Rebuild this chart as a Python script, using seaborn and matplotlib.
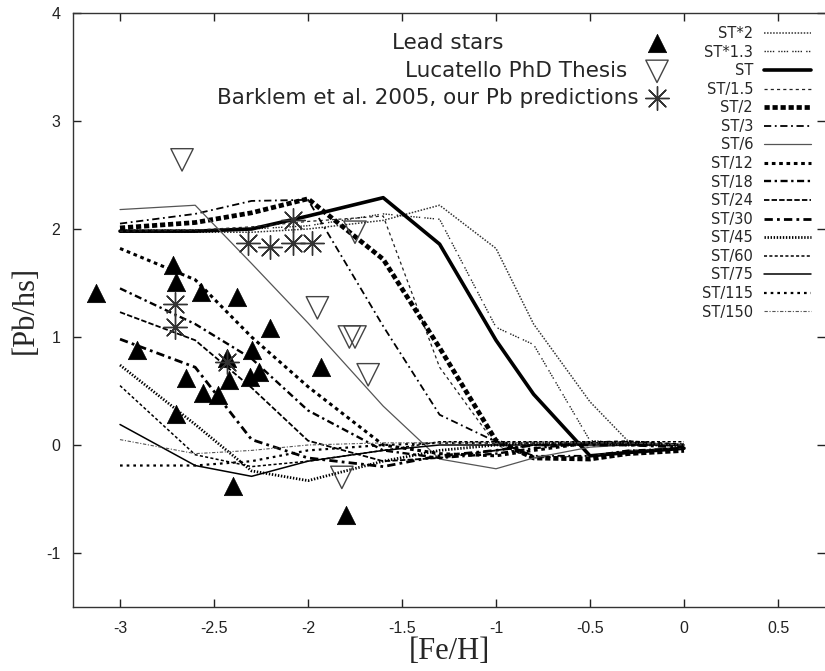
import matplotlib
matplotlib.use("Agg")
import matplotlib.pyplot as plt
import seaborn as sns
import pandas as pd

# ---------------- data ----------------
feh = [-3.0, -2.6, -2.3, -2.0, -1.6, -1.3, -1.0, -0.8, -0.5, -0.3, 0.0]

st_x2   = [1.97, 1.97, 1.97, 2.00, 2.08, 2.22, 1.82, 1.12, 0.40, 0.04, -0.02]
st_x13  = [1.99, 1.99, 2.00, 2.03, 2.14, 2.09, 1.09, 0.93, 0.04, 0.02, -0.02]
st      = [1.98, 1.98, 2.00, 2.12, 2.29, 1.86, 0.97, 0.47, -0.10, -0.07, -0.03]
st_d15  = [1.98, 1.99, 2.02, 2.07, 2.12, 0.72, 0.00, -0.12, -0.10, -0.05, -0.03]
st_d2   = [2.01, 2.06, 2.15, 2.28, 1.72, 0.90, 0.04, -0.12, -0.13, -0.08, -0.05]
st_d3   = [2.05, 2.14, 2.26, 2.27, 1.10, 0.28, 0.03, -0.10, -0.10, -0.05, -0.03]
st_d6   = [2.18, 2.22, 1.68, 1.13, 0.36, -0.13, -0.22, -0.12, -0.02, 0.00, 0.00]
st_d12  = [1.82, 1.53, 1.00, 0.54, 0.00, -0.08, -0.10, -0.05, 0.02, 0.03, 0.00]
st_d18  = [1.45, 1.12, 0.80, 0.32, -0.05, -0.12, -0.08, -0.03, 0.02, 0.02, 0.00]
st_d24  = [1.23, 0.97, 0.53, 0.04, -0.15, -0.12, -0.05, 0.00, 0.02, 0.02, 0.00]
st_d30  = [0.98, 0.72, 0.05, -0.12, -0.20, -0.10, -0.05, 0.00, 0.00, 0.00, -0.02]
st_d45  = [0.74, 0.19, -0.24, -0.33, -0.15, -0.05, 0.00, 0.02, 0.02, 0.00, 0.00]
st_d60  = [0.55, -0.09, -0.20, -0.15, -0.05, 0.03, 0.03, 0.03, 0.03, 0.03, 0.03]
st_d75  = [0.19, -0.19, -0.29, -0.15, -0.05, 0.00, 0.00, 0.00, 0.00, 0.00, 0.00]
st_d115 = [-0.19, -0.19, -0.15, -0.05, 0.00, 0.02, 0.02, 0.02, 0.02, 0.02, 0.00]
st_d150 = [0.05, -0.08, -0.05, 0.00, 0.02, 0.02, 0.02, 0.02, 0.02, 0.02, 0.00]

model_labels = ["ST*2", "ST*1.3", "ST", "ST/1.5", "ST/2", "ST/3", "ST/6", "ST/12",
                "ST/18", "ST/24", "ST/30", "ST/45", "ST/60", "ST/75", "ST/115", "ST/150"]
model_values = [st_x2, st_x13, st, st_d15, st_d2, st_d3, st_d6, st_d12,
                st_d18, st_d24, st_d30, st_d45, st_d60, st_d75, st_d115, st_d150]

lead_feh = [-3.13, -2.91, -2.72, -2.70, -2.57, -2.38, -2.65, -2.70, -2.56, -2.48,
            -2.43, -2.42, -2.30, -2.31, -2.26, -2.20, -1.93, -2.40, -1.80]
lead_pb  = [1.41, 0.88, 1.67, 1.51, 1.42, 1.37, 0.62, 0.29, 0.48, 0.46,
            0.81, 0.60, 0.88, 0.63, 0.68, 1.08, 0.72, -0.38, -0.65]

luc_feh = [-2.67, -1.95, -1.78, -1.75, -1.68, -1.75, -1.82]
luc_pb  = [2.64, 1.27, 1.00, 1.00, 0.65, 1.97, -0.30]

bark_feh = [-2.32, -2.20, -2.08, -1.98, -2.08, -2.71, -2.71, -2.43]
bark_pb  = [1.87, 1.83, 1.87, 1.87, 2.08, 1.31, 1.09, 0.77]

point_labels = ["Lead stars", "Lucatello PhD Thesis", "Barklem et al. 2005, our Pb predictions"]
xticks = [-3, -2.5, -2, -1.5, -1, -0.5, 0, 0.5]
xticklabels = ["-3", "-2.5", "-2", "-1.5", "-1", "-0.5", "0", "0.5"]
yticks = [-1, 0, 1, 2, 3, 4]
yticklabels = ["-1", "0", "1", "2", "3", "4"]

# ---------------- styles ----------------
styles = [
    dict(color="#333333", lw=1.1, ls=(0, (1, 1))),                       # ST*2
    dict(color="#222222", lw=1.0, ls=(0, (1, 1, 1, 1, 1, 1, 1, 3))),     # ST*1.3
    dict(color="black",   lw=2.6, ls="-"),                               # ST
    dict(color="#222222", lw=0.9, ls=(0, (2.5, 2.5))),                   # ST/1.5
    dict(color="black",   lw=3.4, ls=(0, (1.1, 0.6))),                   # ST/2
    dict(color="black",   lw=1.3, ls=(0, (4, 2, 1, 2))),                 # ST/3
    dict(color="#555555", lw=0.9, ls="-"),                               # ST/6
    dict(color="black",   lw=2.2, ls=(0, (1.2, 1.2))),                   # ST/12
    dict(color="black",   lw=1.7, ls=(0, (3, 1.5, 1, 1.5))),             # ST/18
    dict(color="black",   lw=1.3, ls=(0, (3, 1.2))),                     # ST/24
    dict(color="black",   lw=2.0, ls=(0, (3, 1.5, 1, 1.5))),             # ST/30
    dict(color="black",   lw=2.0, ls=(0, (0.5, 0.6))),                   # ST/45
    dict(color="black",   lw=1.1, ls=(0, (2, 1.5))),                     # ST/60
    dict(color="black",   lw=1.1, ls="-"),                               # ST/75
    dict(color="black",   lw=1.6, ls=(0, (1.2, 1.8))),                   # ST/115
    dict(color="#555555", lw=0.8, ls=(0, (3, 1.5, 1, 1.5))),             # ST/150
]

# ---------------- figure ----------------
sns.set_style("white")
plt.rcParams["font.family"] = ["Liberation Sans", "DejaVu Sans"]

W, H = 825, 671
fig = plt.figure(figsize=(W / 100, H / 100), dpi=100)
ax = fig.add_axes([73 / W, 64 / H, 752 / W, 594 / H])

line_handles = []
for lab, vals, stl in zip(model_labels, model_values, styles):
    df = pd.DataFrame({"feh": feh, "pb": vals})
    n0 = len(ax.lines)
    sns.lineplot(data=df, x="feh", y="pb", ax=ax, color=stl["color"],
                 linewidth=stl["lw"], linestyle=stl["ls"], legend=False, zorder=2)
    line_handles.append(ax.lines[n0])

sns.scatterplot(x=lead_feh, y=lead_pb, ax=ax, marker="^", s=175,
                color="black", edgecolor="black", linewidth=0.5, zorder=5)
h_lead = ax.collections[-1]
sns.scatterplot(x=luc_feh, y=luc_pb, ax=ax, marker="v", s=260,
                facecolor="none", edgecolor="#444444", linewidth=1.0, zorder=5)
h_luc = ax.collections[-1]
h_luc.set_facecolor("none")
sns.scatterplot(x=bark_feh, y=bark_pb, ax=ax, marker=(8, 2, 0), s=290,
                color="#333333", linewidth=1.0, zorder=5)
h_bark = ax.collections[-1]

ax.set_xlim(-3.25, 0.75)
ax.set_ylim(-1.5, 4)
ax.set_xticks(xticks)
ax.set_xticklabels(xticklabels)
ax.set_yticks(yticks)
ax.set_yticklabels(yticklabels)
ax.tick_params(direction="in", length=6, width=1, colors="#222222",
               bottom=True, left=True, top=True, right=True, labelsize=11.5)
ax.tick_params(axis="x", pad=10)
ax.tick_params(axis="y", pad=9)
for side in ["left", "bottom", "top"]:
    ax.spines[side].set_color("#333333")
    ax.spines[side].set_linewidth(1.0)
ax.spines["right"].set_visible(False)

serif = ["Liberation Serif", "DejaVu Serif"]
ax.set_xlabel("[Fe/H]", fontsize=22, family=serif)
ax.set_ylabel("[Pb/hs]", fontsize=22, family=serif)
ax.xaxis.label.set_va("center")
ax.yaxis.label.set_va("center")
ax.xaxis.set_label_coords(0.5, -0.075)
ax.yaxis.set_label_coords(-0.064, 0.5)

# ---- key for the observed points (one row each, gnuplot-like placement) ----
fs_top = 15.5
fs_px = fs_top * 100 / 72
marker_cx = 657
hl = 21 / fs_px
rows = [(h_lead, point_labels[0], 41, 503),
        (h_luc, point_labels[1], 69, 627),
        (h_bark, point_labels[2], 96, 639)]
for h, lab, yc, text_end in rows:
    gap = (marker_cx - 10.5) - text_end
    fig.legend(handles=[h], labels=[lab], loc="center right",
               bbox_to_anchor=((marker_cx + 10.5) / W, 1 - (yc + 2) / H),
               bbox_transform=fig.transFigure, markerfirst=False, frameon=False,
               prop={"family": ["DejaVu Sans"], "size": fs_top},
               handlelength=hl, handletextpad=gap / fs_px,
               borderpad=0, borderaxespad=0)

# ---- key for the model curves ----
fs_r = 10.5
fs_rpx = fs_r * 100 / 72
fig.legend(handles=line_handles, labels=model_labels,
           loc="upper right", bbox_to_anchor=(811 / W, 1 - 26 / H),
           bbox_transform=fig.transFigure, markerfirst=False, frameon=False,
           prop={"family": ["DejaVu Sans"], "size": fs_r},
           labelspacing=0.245, handlelength=47 / fs_rpx, handletextpad=11 / fs_rpx,
           borderpad=0, borderaxespad=0)

fig.savefig("out.png", dpi=100)
